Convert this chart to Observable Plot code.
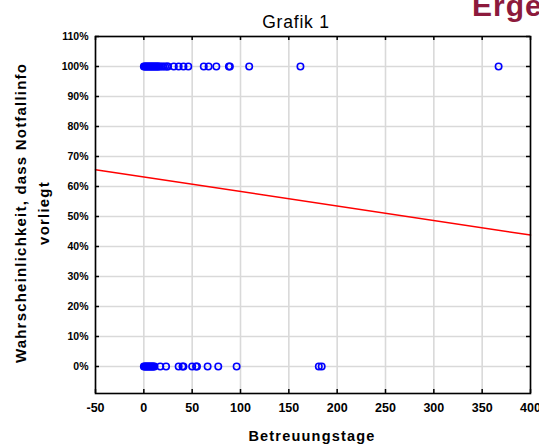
<!DOCTYPE html>
<html>
<head>
<meta charset="utf-8">
<script src="https://cdn.jsdelivr.net/npm/d3@7"></script>
<script src="https://cdn.jsdelivr.net/npm/@observablehq/plot@0.6"></script>
<style>
  html, body { margin: 0; padding: 0; background: #fff; overflow: hidden; }
  #wrap { position: relative; width: 539px; height: 448px; font-family: "Liberation Sans", Arial, sans-serif; }
  .abs { position: absolute; white-space: nowrap; }
</style>
</head>
<body>
<div id="wrap">
  <div class="abs" id="erge" style="left:472px; top:-11px; font-size:30px; font-weight:bold; color:#8c1a3c; letter-spacing:1px;">Ergebnisse</div>
  <div class="abs" id="title" style="left:296px; top:12px; transform:translateX(-50%); font-size:17.5px; color:#000; letter-spacing:0.8px;">Grafik 1</div>
  <div class="abs" style="left:20px; top:213px; transform:translate(-50%,-50%) rotate(-90deg); font-size:15px; font-weight:bold; letter-spacing:1.2px;">Wahrscheinlichkeit, dass Notfallinfo</div>
  <div class="abs" style="left:43px; top:213px; transform:translate(-50%,-50%) rotate(-90deg); font-size:15px; font-weight:bold; letter-spacing:1.2px;">vorliegt</div>
  <div class="abs" style="left:312px; top:428px; transform:translateX(-50%); font-size:14.5px; font-weight:bold; letter-spacing:1.2px;">Betreuungstage</div>
  <div id="chart"></div>
</div>
<script>
// Data
const daysWithInfo = [0,1,2,3,4,5,6,7,8,9,10,11,12,13,14,15,16,18,20,22,24,25,31,36,41,46,62,67,75,88,89,109,162,367];
const daysWithoutInfo = [0,1,2,3,4,5,6,7,8,9,10,11,17,23,36,40,41,50,54,55,66,77,96,181,184];
const fitDays = [-50, 400];
const fitProb = [0.656, 0.438];
const xTicks = [-50,0,50,100,150,200,250,300,350,400];
const yTicks = [0,0.1,0.2,0.3,0.4,0.5,0.6,0.7,0.8,0.9,1.0,1.1];

const points = [
  ...daysWithInfo.map(d => ({x: d, y: 1})),
  ...daysWithoutInfo.map(d => ({x: d, y: 0}))
];
const fit = fitDays.map((d, i) => ({x: d, y: fitProb[i]}));

const W = 539, H = 448, mL = 95, mR = 9, mT = 36, mB = 55;
const pw = W - mL - mR, ph = H - mT - mB;

const chart = Plot.plot({
  width: W, height: H,
  marginLeft: mL, marginRight: mR, marginTop: mT, marginBottom: mB,
  style: {fontFamily: "Liberation Sans, Arial, sans-serif", background: "#fff", overflow: "visible"},
  x: {domain: [-50, 400], ticks: xTicks},
  y: {domain: [-0.09, 1.1], ticks: yTicks},
  marks: [
    Plot.gridX(xTicks, {stroke: "#d9d9d9", strokeOpacity: 1, strokeWidth: 1.6}),
    Plot.gridY(yTicks, {stroke: "#d9d9d9", strokeOpacity: 1, strokeWidth: 1.6}),
    Plot.tickY(yTicks, {y: d => d, stroke: "#000", strokeWidth: 1.5, insetRight: pw - 4}),
    Plot.tickY(yTicks, {y: d => d, stroke: "#000", strokeWidth: 1.5, insetLeft: pw - 4}),
    Plot.tickX(xTicks, {x: d => d, stroke: "#000", strokeWidth: 1.5, insetTop: ph - 4}),
    Plot.tickX(xTicks, {x: d => d, stroke: "#000", strokeWidth: 1.5, insetBottom: ph - 4}),
    Plot.axisY(yTicks, {tickSize: 0, tickPadding: 7, tickFormat: d3.format(".0%"), fontSize: 10.5, fontWeight: "bold", label: null}),
    Plot.axisX(xTicks, {tickSize: 0, tickPadding: 10, tickFormat: d => String(d), fontSize: 12.5, fontWeight: "bold", label: null}),
    Plot.line(fit, {x: "x", y: "y", stroke: "#ff0000", strokeWidth: 1.5}),
    Plot.dot(points, {x: "x", y: "y", r: 3.2, stroke: "#0000ff", strokeWidth: 1.6, fill: "none"}),
    Plot.frame({stroke: "#000", strokeWidth: 1.6})
  ]
});
chart.style.position = "absolute";
chart.style.left = "0px";
chart.style.top = "0px";
document.getElementById("chart").appendChild(chart);
document.querySelectorAll(".abs").forEach(el => { el.style.zIndex = 2; });
</script>
</body>
</html>
